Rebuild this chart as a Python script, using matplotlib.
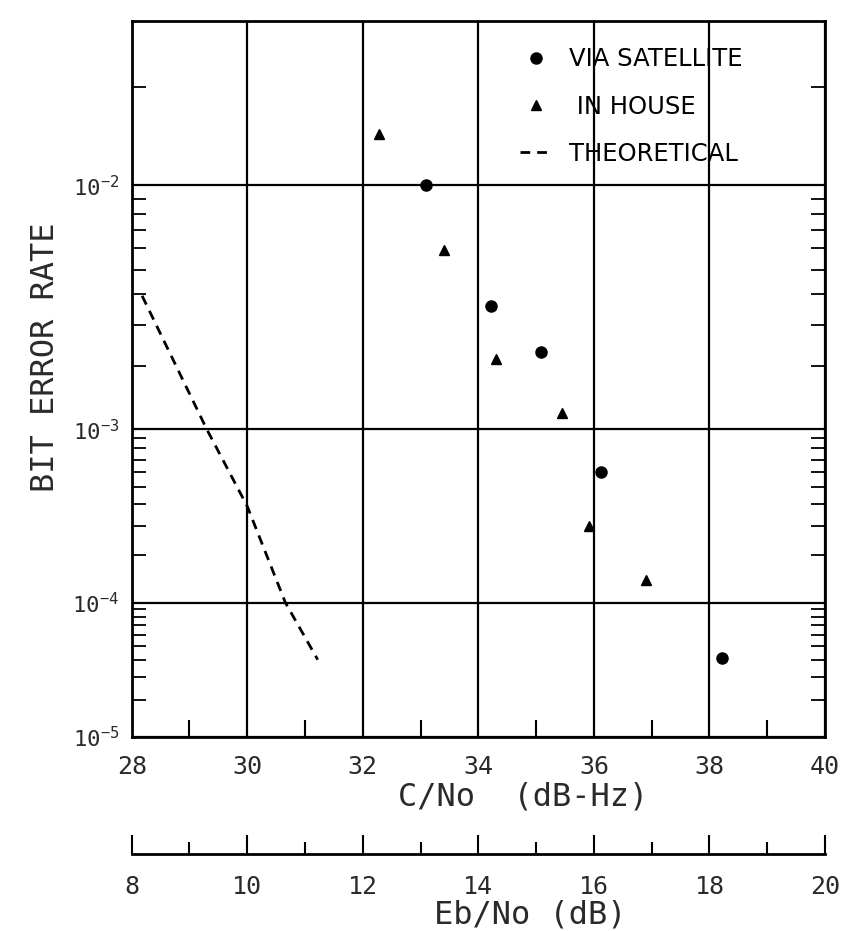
import numpy as np
import matplotlib
matplotlib.use('Agg')
import matplotlib.pyplot as plt
from matplotlib.ticker import FixedLocator, FixedFormatter, MultipleLocator

# valores
cno_sat = [33.1, 34.22, 35.08, 36.12, 38.22]
ber_sat = [1.0e-2, 3.6e-3, 2.3e-3, 6.0e-4, 4.1e-5]

cno_house = [32.28, 33.4, 34.3, 35.45, 35.92, 36.9]
ber_house = [1.46e-2, 5.9e-3, 2.15e-3, 1.2e-3, 3.0e-4, 1.4e-4]

cno_theory = [28.18, 29.3, 30.0, 30.66, 31.22]
ber_theory = [3.95e-3, 1.0e-3, 3.9e-4, 1.0e-4, 4.0e-5]

y_ticks = [1e-5, 1e-4, 1e-3, 1e-2]
y_ticklabels = ['10$^{-5}$', '10$^{-4}$', '10$^{-3}$', '10$^{-2}$']
cno_ticks = [28, 30, 32, 34, 36, 38, 40]
ebno_ticks = [8, 10, 12, 14, 16, 18, 20]

mono = 'DejaVu Sans Mono'
txt = '#2a2a2a'
plt.rcParams['font.family'] = mono
plt.rcParams['mathtext.fontset'] = 'custom'
plt.rcParams['mathtext.rm'] = mono
plt.rcParams['mathtext.default'] = 'regular'


# escala de probabilidad: log(-log(p))
def fwd(p):
    p = np.asarray(p, dtype=float)
    with np.errstate(all='ignore'):
        p = np.clip(p, 1e-300, 1 - 1e-12)
        return -np.log10(-np.log10(p))


def inv(v):
    v = np.asarray(v, dtype=float)
    with np.errstate(all='ignore'):
        return 10.0 ** (-(10.0 ** (-v)))


fig = plt.figure(figsize=(8.43, 9.31), dpi=100)
ax = fig.add_axes([131.7 / 843, 1 - 737 / 931, 693.3 / 843, 716 / 931])

ax.plot(cno_theory, ber_theory, color='black', lw=2, dashes=(3.5, 2.5),
        label='THEORETICAL')
ax.plot(cno_sat, ber_sat, 'o', color='black', ms=8, label='VIA SATELLITE')
ax.plot(cno_house, ber_house, '^', color='black', ms=7.5, label=' IN HOUSE')

ax.set_yscale('function', functions=(fwd, inv))
ax.set_ylim(1e-5, 3e-2)
ax.set_xlim(28, 40)

minor_y = [k * 10.0 ** e for e in range(-5, -1) for k in range(2, 10)]
minor_y = [m for m in minor_y if m < 2.95e-2]
ax.yaxis.set_major_locator(FixedLocator(y_ticks))
ax.yaxis.set_major_formatter(FixedFormatter(y_ticklabels))
ax.yaxis.set_minor_locator(FixedLocator(minor_y))
ax.xaxis.set_major_locator(FixedLocator(cno_ticks))
ax.xaxis.set_minor_locator(MultipleLocator(1))

ax.grid(True, which='major', color='black', lw=1.6)
for s in ax.spines.values():
    s.set_linewidth(2)

ax.tick_params(axis='x', which='major', length=0, pad=13, labelsize=18,
               labelcolor=txt)
ax.tick_params(axis='x', which='minor', direction='in', length=12, width=1.5,
               bottom=True, top=False)
ax.tick_params(axis='y', which='major', length=0, pad=9, labelsize=16,
               labelcolor=txt)
ax.tick_params(axis='y', which='minor', direction='in', length=10, width=1.3,
               left=True, right=True)

ax.set_xlabel('C/No  (dB-Hz)', fontsize=23, color=txt, va='center')
ax.xaxis.set_label_coords(0.565, -60 / 716)
ax.set_ylabel('BIT ERROR RATE', fontsize=23, color=txt, va='center')
ax.yaxis.set_label_coords(-86 / 693.3, 0.53)

handles, labels = ax.get_legend_handles_labels()
order = [1, 2, 0]
ax.legend([handles[i] for i in order], [labels[i] for i in order],
          loc='upper left', bbox_to_anchor=(0.56, 0.963), frameon=False,
          prop={'family': 'DejaVu Sans', 'size': 17.5}, labelcolor='black',
          handlelength=1.3, handletextpad=0.7, labelspacing=0.95,
          borderpad=0, borderaxespad=0)

# segundo eje: Eb/No
ax2 = fig.add_axes([131.7 / 843, 1 - 854 / 931, 693.3 / 843, 0.0001])
ax2.set_xlim(8, 20)
for side in ['top', 'left', 'right']:
    ax2.spines[side].set_visible(False)
ax2.spines['bottom'].set_linewidth(2)
ax2.set_yticks([])
ax2.xaxis.set_major_locator(FixedLocator(ebno_ticks))
ax2.xaxis.set_minor_locator(MultipleLocator(1))
ax2.tick_params(axis='x', which='major', direction='in', length=13.5,
                width=1.5, pad=15, labelsize=18, labelcolor=txt)
ax2.tick_params(axis='x', which='minor', direction='in', length=8.5,
                width=1.5)
ax2.set_xlabel('Eb/No (dB)', fontsize=23, color=txt, va='center')
ax2.xaxis.set_label_coords(530 / 843, 1 - 915 / 931, transform=fig.transFigure)

fig.savefig('out.png', dpi=100)
